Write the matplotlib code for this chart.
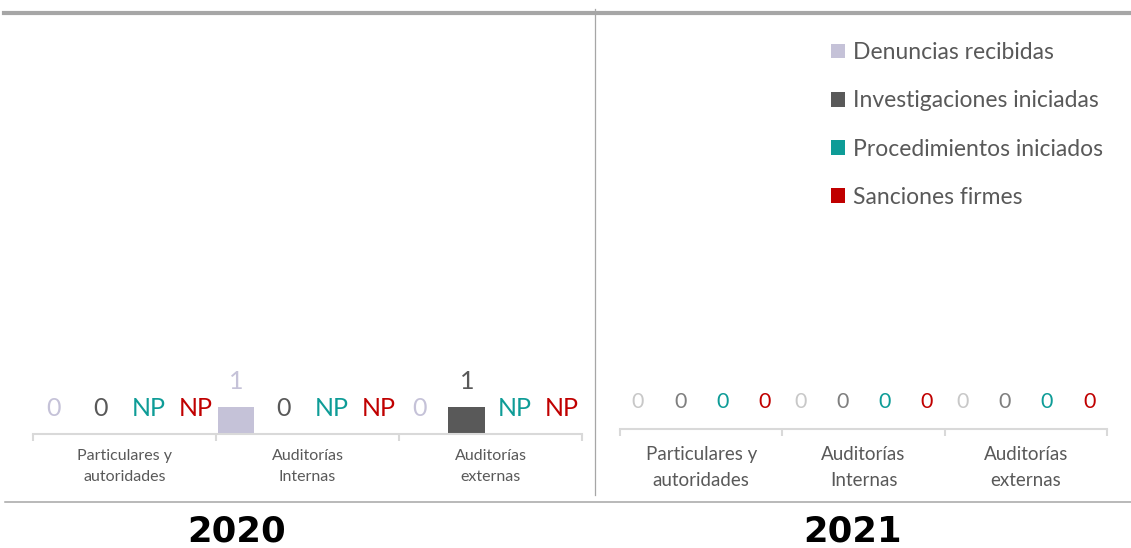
import matplotlib
matplotlib.use("Agg")
import matplotlib.pyplot as plt
from matplotlib.lines import Line2D
from matplotlib.patches import Patch
import numpy as np

plt.rcParams['font.family'] = ['Lato', 'DejaVu Sans']

# ---------------- data ----------------
categories = ["Particulares y\nautoridades", "Auditorías\nInternas", "Auditorías\nexternas"]
series = ["Denuncias recibidas", "Investigaciones iniciadas",
          "Procedimientos iniciados", "Sanciones firmes"]
years = ["2020", "2021"]

# None = "NP" (no presentado)
denuncias_2020 = [0, 1, 0]
investigaciones_2020 = [0, 0, 1]
procedimientos_2020 = [None, None, None]
sanciones_2020 = [None, None, None]

denuncias_2021 = [0, 0, 0]
investigaciones_2021 = [0, 0, 0]
procedimientos_2021 = [0, 0, 0]
sanciones_2021 = [0, 0, 0]

bar_colors = ["#C5C2D8", "#595959", "#0E9C97", "#C00000"]
label_colors_2020 = ["#C5C2D8", "#595959", "#0E9C97", "#C00000"]
label_colors_2021 = ["#C8C8C8", "#7F7F7F", "#0E9C97", "#C00000"]

# ---------------- figure ----------------
W, H = 1131, 548
fig = plt.figure(figsize=(W / 100, H / 100), dpi=100)


def fx(px):
    return px / W


def fy(py):
    return 1 - py / H


# decorative frame lines
fig.add_artist(Line2D([fx(4), fx(1131)], [fy(13), fy(13)], color="#A6A6A6", lw=3.0,
                      transform=fig.transFigure))
fig.add_artist(Line2D([fx(595), fx(595)], [fy(9), fy(495)], color="#A6A6A6", lw=0.9,
                      transform=fig.transFigure))
fig.add_artist(Line2D([fx(5), fx(1131)], [fy(502), fy(502)], color="#A6A6A6", lw=1.1,
                      transform=fig.transFigure))

step = 0.26
width = 0.2
offsets = (np.arange(4) - 1.5) * step


def draw_panel(ax, data, label_colors, val_fs, lab_fs, lab_ls, lab_offset, pad):
    x = np.arange(len(categories))
    for i, vals in enumerate(data):
        heights = [0 if v is None else v for v in vals]
        ax.bar(x + offsets[i], heights, width=width, color=bar_colors[i])
        for xi, v, h in zip(x + offsets[i], vals, heights):
            txt = "NP" if v is None else str(v)
            ax.annotate(txt, (xi, h), xytext=(0, lab_offset), textcoords="offset points",
                        ha="center", va="center", fontsize=val_fs, color=label_colors[i])
    ax.set_xlim(-0.5, len(categories) - 0.5)
    ax.set_ylim(0, 15.33)
    for s in ["top", "left", "right"]:
        ax.spines[s].set_visible(False)
    ax.spines["bottom"].set_color("#D9D9D9")
    ax.spines["bottom"].set_linewidth(1.5)
    ax.set_yticks([])
    ax.set_xticks(x)
    ax.set_xticklabels(categories, fontsize=lab_fs, color="#595959", linespacing=lab_ls)
    ax.tick_params(axis="x", which="major", length=0, pad=pad)
    ax.set_xticks(np.arange(len(categories) + 1) - 0.5, minor=True)
    ax.tick_params(axis="x", which="minor", length=5, width=1.5, color="#D9D9D9", direction="out")
    ax.patch.set_alpha(0)


ax1 = fig.add_axes([fx(33), fy(434), fx(582 - 33), (434 - 20) / H])
draw_panel(ax1, [denuncias_2020, investigaciones_2020, procedimientos_2020, sanciones_2020],
           label_colors_2020, 18, 11.5, 1.65, 18.5, 11)

ax2 = fig.add_axes([fx(620), fy(429), fx(1107 - 620), (429 - 20) / H])
draw_panel(ax2, [denuncias_2021, investigaciones_2021, procedimientos_2021, sanciones_2021],
           label_colors_2021, 15.5, 13.5, 1.68, 19.3, 12)

# legend
handles = [Patch(facecolor=c, edgecolor="none") for c in bar_colors]
leg = fig.legend(handles, series, loc="upper left", bbox_to_anchor=(fx(831), fy(42)),
                 frameon=False, fontsize=16.5, labelcolor="#595959",
                 handlelength=0.62, handleheight=0.62, handletextpad=0.36,
                 labelspacing=1.19, borderpad=0, borderaxespad=0)

# year labels
for xp, yr in zip([237, 852], years):
    fig.text(fx(xp), fy(532), yr, ha="center", va="center", fontsize=25.5,
             fontweight="bold", color="black", family=["DejaVu Sans"])

fig.savefig("out.png", dpi=100)
